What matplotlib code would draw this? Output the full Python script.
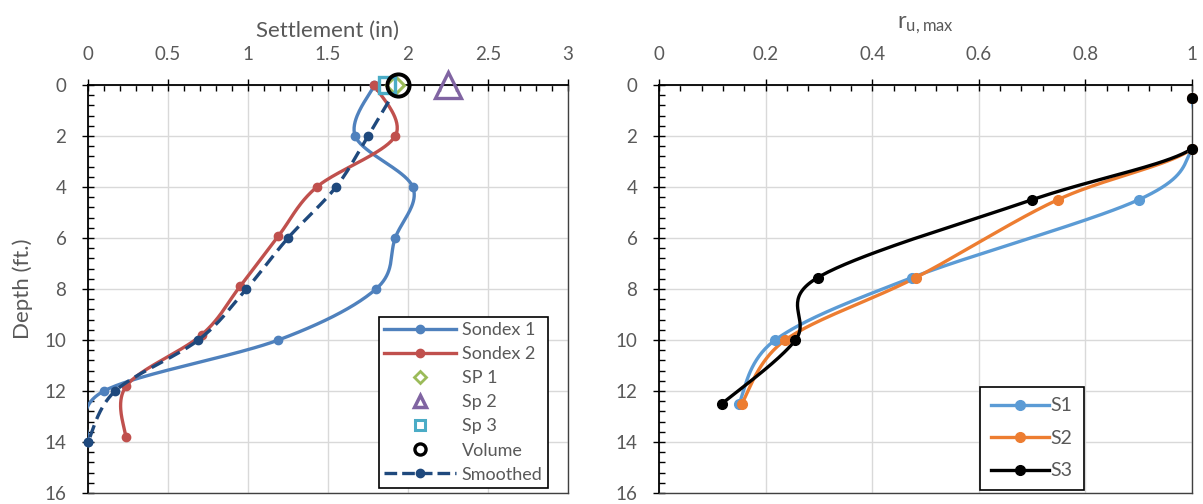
import numpy as np
import matplotlib
matplotlib.use("Agg")
import matplotlib.pyplot as plt
from matplotlib.lines import Line2D
from matplotlib.ticker import MultipleLocator

plt.rcParams['font.family'] = ['Lato', 'DejaVu Sans']

# ---------------- data ----------------
# Left chart: settlement (in) vs depth (ft)
sondex1_depth = [0, 2, 4, 6, 8, 10, 12, 14]
sondex1_settle = [1.79, 1.67, 2.03, 1.92, 1.80, 1.19, 0.10, 0.0]

sondex2_depth = [0, 2, 4, 5.92, 7.9, 9.8, 11.8, 13.8]
sondex2_settle = [1.79, 1.92, 1.43, 1.19, 0.95, 0.71, 0.24, 0.235]

smoothed_depth = [0, 2, 4, 6, 8, 10, 12, 14]
smoothed_settle = [1.94, 1.75, 1.55, 1.25, 0.99, 0.69, 0.17, 0.0]

sp1_settle, sp1_depth = [1.92], [0]
sp2_settle, sp2_depth = [2.25], [0]
sp3_settle, sp3_depth = [1.87], [0]
volume_settle, volume_depth = [1.94], [0]

settle_ticks = [0, 0.5, 1, 1.5, 2, 2.5, 3]
settle_labels = ['0', '0.5', '1', '1.5', '2', '2.5', '3']
depth_ticks = [0, 2, 4, 6, 8, 10, 12, 14, 16]

# Right chart: r_u,max vs depth
ru_depth = [0.5, 2.5, 4.5, 7.55, 10.0, 12.5]
s1_ru = [1.0, 1.0, 0.90, 0.475, 0.218, 0.150]
s2_ru = [1.0, 1.0, 0.748, 0.482, 0.237, 0.155]
s3_ru = [1.0, 1.0, 0.70, 0.298, 0.256, 0.118]
ru_ticks = [0, 0.2, 0.4, 0.6, 0.8, 1]
ru_labels = ['0', '0.2', '0.4', '0.6', '0.8', '1']

# ---------------- style ----------------
C_S1 = '#4F81BD'
C_S2 = '#C0504D'
C_SM = '#1F497D'
C_GREEN = '#9BBB59'
C_PURPLE = '#8064A2'
C_AQUA = '#4BACC6'
C_R1 = '#5B9BD5'
C_R2 = '#ED7D31'
C_R3 = '#000000'
GRAY_TXT = '#595959'
GRID = '#D9D9D9'
TICK_FS = 13.5

W, H = 1203, 504
fig = plt.figure(figsize=(W / 100, H / 100), dpi=100)

ax1 = fig.add_axes([88 / W, 1 - 493 / H, (568 - 88) / W, (493 - 85) / H])
ax2 = fig.add_axes([659 / W, 1 - 493 / H, (1192 - 659) / W, (493 - 85) / H])


def smooth(ax, xs, ys, n=40):
    """Excel-like smoothed line (Catmull-Rom / Bezier in display space)."""
    pts = ax.transData.transform(np.column_stack([xs, ys]))
    P = np.vstack([pts[0], pts, pts[-1]])
    out = []
    t = np.linspace(0, 1, n)[:, None]
    for i in range(len(pts) - 1):
        p0, p1, p2, p3 = P[i], P[i + 1], P[i + 2], P[i + 3]
        c1 = p1 + (p2 - p0) / 6.0
        c2 = p2 - (p3 - p1) / 6.0
        seg = ((1 - t) ** 3) * p1 + 3 * ((1 - t) ** 2) * t * c1 + 3 * (1 - t) * t ** 2 * c2 + t ** 3 * p2
        out.append(seg if i == 0 else seg[1:])
    out = np.vstack(out)
    d = ax.transData.inverted().transform(out)
    return d[:, 0], d[:, 1]


def style_axes(ax, xlim, xticks, xlabels, xminor):
    ax.set_xlim(*xlim)
    ax.set_ylim(16, 0)
    ax.set_xticks(xticks)
    ax.set_xticklabels(xlabels)
    ax.set_yticks(depth_ticks)
    ax.xaxis.set_minor_locator(MultipleLocator(xminor))
    ax.yaxis.set_minor_locator(MultipleLocator(0.4))
    ax.xaxis.tick_top()
    ax.xaxis.set_label_position('top')
    ax.grid(True, which='major', color=GRID, lw=1.0, zorder=0)
    ax.set_axisbelow(True)
    ax.tick_params(which='major', direction='inout', length=9, width=1.0,
                   color='black', labelcolor=GRAY_TXT, labelsize=TICK_FS, pad=11)
    ax.tick_params(which='minor', direction='in', length=4, width=1.0, color='black')
    ax.tick_params(axis='x', which='both', top=True, bottom=False)
    ax.tick_params(axis='y', which='both', left=True, right=False)
    for s in ['top', 'left']:
        ax.spines[s].set_color('black')
        ax.spines[s].set_linewidth(1.3)
    for s in ['right', 'bottom']:
        ax.spines[s].set_color('#404040')
        ax.spines[s].set_linewidth(1.0)


style_axes(ax1, (0, 3), settle_ticks, settle_labels, 0.1)
style_axes(ax2, (0, 1), ru_ticks, ru_labels, 0.04)

fig.canvas.draw()

LW = 2.4
MS = 6

# ---------- left chart ----------
x, y = smooth(ax1, sondex1_settle, sondex1_depth)
ax1.plot(x, y, color=C_S1, lw=LW, solid_capstyle='round', zorder=3)
ax1.plot(sondex1_settle, sondex1_depth, 'o', color=C_S1, ms=MS, zorder=4, clip_on=False)

x, y = smooth(ax1, sondex2_settle, sondex2_depth)
ax1.plot(x, y, color=C_S2, lw=LW, solid_capstyle='round', zorder=3)
ax1.plot(sondex2_settle, sondex2_depth, 'o', color=C_S2, ms=MS, zorder=4, clip_on=False)

x, y = smooth(ax1, smoothed_settle, smoothed_depth)
ax1.plot(x, y, color=C_SM, lw=LW, dashes=(3.8, 2.0), zorder=5)
ax1.plot(smoothed_settle, smoothed_depth, 'o', color=C_SM, ms=MS, zorder=6, clip_on=False)

ax1.plot(sp1_settle, sp1_depth, 'D', mfc='white', mec=C_GREEN, mew=2.2, ms=9, zorder=7, clip_on=False)
ax1.plot(sp2_settle, sp2_depth, '^', mfc='none', mec=C_PURPLE, mew=2.4, ms=19, zorder=7, clip_on=False)
ax1.plot(sp3_settle, sp3_depth, 's', mfc='none', mec=C_AQUA, mew=2.4, ms=12, zorder=7, clip_on=False)
ax1.plot(volume_settle, volume_depth, 'o', mfc='none', mec='black', mew=2.8, ms=16, zorder=8, clip_on=False)

ax1.set_xlabel('Settlement (in)', fontsize=16, color=GRAY_TXT, labelpad=7)
ax1.set_ylabel('Depth (ft.)', fontsize=16, color=GRAY_TXT, labelpad=8)

h1 = [
    Line2D([], [], color=C_S1, lw=LW, marker='o', ms=MS),
    Line2D([], [], color=C_S2, lw=LW, marker='o', ms=MS),
    Line2D([], [], ls='none', marker='D', mfc='white', mec=C_GREEN, mew=2, ms=6),
    Line2D([], [], ls='none', marker='^', mfc='white', mec=C_PURPLE, mew=2.5, ms=8),
    Line2D([], [], ls='none', marker='s', mfc='white', mec=C_AQUA, mew=2.2, ms=7),
    Line2D([], [], ls='none', marker='o', mfc='white', mec='black', mew=2.4, ms=8),
    Line2D([], [], color=C_SM, lw=LW, dashes=(3.8, 1.5), marker='o', ms=MS),
]
l1 = ['Sondex 1', 'Sondex 2', 'SP 1', 'Sp 2', 'Sp 3', 'Volume', 'Smoothed']
leg1 = ax1.legend(h1, l1, loc='lower right', bbox_to_anchor=(0.958, 0.012),
                  fontsize=13, frameon=True, fancybox=False, edgecolor='black',
                  framealpha=1, handlelength=4.0, handletextpad=0.3,
                  labelspacing=0.45, borderpad=0.3, borderaxespad=0)
leg1.get_frame().set_linewidth(1.2)
for t in leg1.get_texts():
    t.set_color(GRAY_TXT)

# ---------- right chart ----------
for vals, col in [(s1_ru, C_R1), (s2_ru, C_R2), (s3_ru, C_R3)]:
    x, y = smooth(ax2, vals, ru_depth)
    ax2.plot(x, y, color=col, lw=LW, zorder=3)
for vals, col in [(s1_ru, C_R1), (s2_ru, C_R2), (s3_ru, C_R3)]:
    ax2.plot(vals, ru_depth, 'o', color=col, ms=MS + 1, zorder=4, clip_on=False)

ax2.set_xlabel(r'$\mathregular{r_{u,max}}$', fontsize=17, color=GRAY_TXT, labelpad=13)

h2 = [Line2D([], [], color=c, lw=LW, marker='o', ms=MS + 1) for c in (C_R1, C_R2, C_R3)]
leg2 = ax2.legend(h2, ['S1', 'S2', 'S3'], loc='lower left', bbox_to_anchor=(0.602, 0.007),
                  fontsize=14, frameon=True, fancybox=False, edgecolor='black',
                  framealpha=1, handlelength=3.0, handletextpad=0.1,
                  labelspacing=0.8, borderpad=0.55, borderaxespad=0)
leg2.get_frame().set_linewidth(1.2)
for t in leg2.get_texts():
    t.set_color(GRAY_TXT)

fig.savefig('out.png', dpi=100)
